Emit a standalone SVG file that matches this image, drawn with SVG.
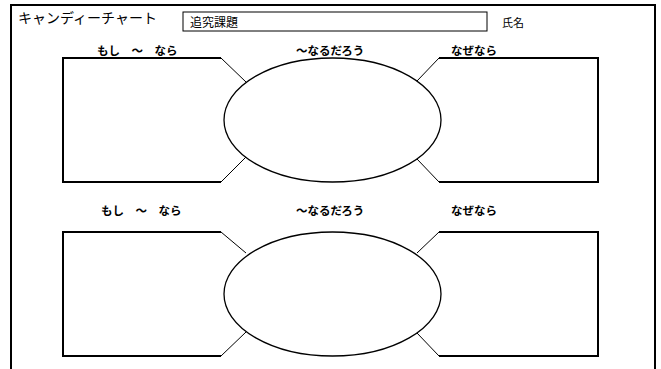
<svg xmlns="http://www.w3.org/2000/svg" width="661" height="369" viewBox="0 0 661 369">
<style>
.frame{fill:none;stroke:#000;stroke-width:2}
.box{fill:none;stroke:#000;stroke-width:2}
.ell{fill:none;stroke:#000;stroke-width:1.3}
.con{stroke:#000;stroke-width:1;fill:none}
.lbl{font-family:"Noto Sans CJK JP","Noto Sans",sans-serif;font-weight:bold;font-size:11.5px;fill:#000}
.txt{font-family:"Noto Sans CJK JP","Noto Sans",sans-serif;fill:#000}
</style>
<rect width="661" height="369" fill="#fff"/>
<path class="frame" d="M11,372 V5 H655 V372"/>
<g id="header">
<text class="txt" x="18" y="23" font-size="14">キャンディーチャート</text>
<rect x="183" y="12" width="304" height="19" fill="#fff" stroke="#000" stroke-width="1"/>
<text class="txt" x="190" y="26.5" font-size="12">追究課題</text>
<text class="txt" x="502" y="27" font-size="11">氏名</text>
</g>
<g id="connectors">
<path class="con" d="M221,58 L246,82 M221,182 L246,157 M439,58 L417,81 M439,182 L417,159"/>
<path class="con" d="M221,232 L246,253 M221,356 L246,332 M439,232 L417,253 M439,356 L417,333"/>
</g>
<g id="if1">
<text class="lbl" x="97" y="55">もし　～　なら</text>
<path class="box" d="M221,58 H63 V182 H221"/>
</g>
<g id="result1">
<text class="lbl" x="296" y="55">～なるだろう</text>
<ellipse class="ell" cx="332.5" cy="120" rx="108.5" ry="62"/>
</g>
<g id="because1">
<text class="lbl" x="451" y="55">なぜなら</text>
<path class="box" d="M439,58 H598 V182 H439"/>
</g>
<g id="if2">
<text class="lbl" x="101" y="215">もし　～　なら</text>
<path class="box" d="M221,232 H63 V356 H221"/>
</g>
<g id="result2">
<text class="lbl" x="296" y="215">～なるだろう</text>
<ellipse class="ell" cx="332.5" cy="294" rx="108.5" ry="62"/>
</g>
<g id="because2">
<text class="lbl" x="451" y="215">なぜなら</text>
<path class="box" d="M439,232 H598 V356 H439"/>
</g>
</svg>
